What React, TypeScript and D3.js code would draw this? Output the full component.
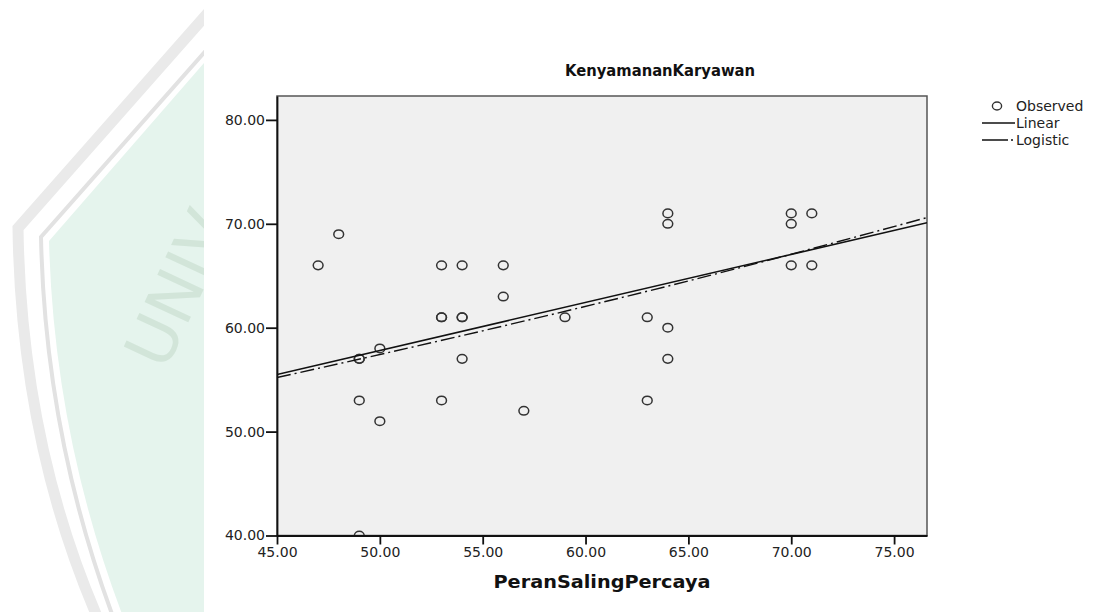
import React, { useEffect, useRef } from 'react'
import * as d3 from 'd3'

// waarnemingen: PeranSalingPercaya (x) tegen KenyamananKaryawan (y)
const peranSalingPercaya = [47, 48, 49, 49, 49, 49, 50, 50, 53, 53, 53, 53, 54, 54, 54, 54, 56, 56, 57, 59, 63, 63, 64, 64, 64, 64, 70, 70, 70, 71, 71]
const kenyamananKaryawan = [66, 69, 57, 57, 53, 40, 58, 51, 66, 61, 61, 53, 66, 61, 61, 57, 66, 63, 52, 61, 61, 53, 71, 70, 60, 57, 71, 70, 66, 71, 66]

const linearX = [45, 76.6]
const linearY = [55.5, 70.1]
const logisticX = [45, 55, 65, 76.6]
const logisticY = [55.2, 59.7, 64.5, 70.6]

const xTicks = [45, 50, 55, 60, 65, 70, 75]
const yTicks = [40, 50, 60, 70, 80]
const legendLabels = ['Observed', 'Linear', 'Logistic']

const FONT = '"DejaVu Sans", Arial, sans-serif'

function App() {
	const ref = useRef<SVGSVGElement>(null)

	useEffect(() => {
		const svg = d3.select(ref.current)
		svg.selectAll('*').remove()

		const left = 277
		const right = 927
		const top = 96
		const bottom = 535.5

		const x = d3.scaleLinear().domain([45, 76.6]).range([left, right])
		const y = d3.scaleLinear().domain([40, 82.3]).range([bottom, top])

		const defs = svg.append('defs')
		defs.append('clipPath').attr('id', 'wm-clip')
			.append('rect').attr('x', 0).attr('y', 0).attr('width', 204).attr('height', 612)
		defs.append('clipPath').attr('id', 'plot-clip')
			.append('rect').attr('x', left).attr('y', top).attr('width', right - left).attr('height', bottom - top)

		// watermerk aan de linkerkant
		const wm = svg.append('g').attr('clip-path', 'url(#wm-clip)')
		wm.append('path')
			.attr('d', 'M 210 56 L 49 241 Q 54 434 122 614 L 210 614 Z')
			.attr('fill', '#e5f4ed')
		wm.append('path')
			.attr('d', 'M 210 46 L 41 237 Q 45 432 112 614')
			.attr('fill', 'none').attr('stroke', '#e2e2e2').attr('stroke-width', 4)
		wm.append('path')
			.attr('d', 'M 214 6 L 18 228 Q 21 438 96 614')
			.attr('fill', 'none').attr('stroke', '#eaeaea').attr('stroke-width', 11)
		wm.append('text')
			.attr('transform', 'translate(165,372) rotate(-65)')
			.attr('font-family', FONT)
			.attr('font-size', 66)
			.attr('fill', '#d2e5d9')
			.text('UNIV')

		// plotvlak
		svg.append('rect')
			.attr('x', left).attr('y', top)
			.attr('width', right - left).attr('height', bottom - top)
			.attr('fill', '#f0f0f0')
			.attr('stroke', '#555')
			.attr('stroke-width', 1.5)

		const plot = svg.append('g').attr('clip-path', 'url(#plot-clip)')

		plot.selectAll('ellipse')
			.data(d3.range(peranSalingPercaya.length))
			.join('ellipse')
			.attr('cx', i => x(peranSalingPercaya[i]))
			.attr('cy', i => y(kenyamananKaryawan[i]))
			.attr('rx', 4.9)
			.attr('ry', 4.3)
			.attr('fill', 'none')
			.attr('stroke', '#333')
			.attr('stroke-width', 1.5)

		const line = d3.line<number>()
		plot.append('path')
			.attr('d', line.x(i => x(linearX[i])).y(i => y(linearY[i]))(d3.range(linearX.length)))
			.attr('fill', 'none')
			.attr('stroke', '#111')
			.attr('stroke-width', 1.6)

		const curve = d3.line<number>().curve(d3.curveMonotoneX)
			.x(i => x(logisticX[i]))
			.y(i => y(logisticY[i]))
		plot.append('path')
			.attr('d', curve(d3.range(logisticX.length)))
			.attr('fill', 'none')
			.attr('stroke', '#111')
			.attr('stroke-width', 1.4)
			.attr('stroke-dasharray', '14,4,2,4')

		// assen
		const xAxis = d3.axisBottom(x).tickValues(xTicks).tickFormat(d3.format('.2f')).tickSize(9).tickSizeOuter(0).tickPadding(3)
		const yAxis = d3.axisLeft(y).tickValues(yTicks).tickFormat(d3.format('.2f')).tickSize(11).tickSizeOuter(0).tickPadding(1)

		const gx = svg.append('g').attr('transform', `translate(0,${bottom})`).call(xAxis)
		const gy = svg.append('g').attr('transform', `translate(${left},0)`).call(yAxis)

		;[gx, gy].forEach(g => {
			g.attr('font-family', FONT).attr('font-size', 14)
			g.select('.domain').attr('stroke', '#111').attr('stroke-width', 1.8)
			g.selectAll('.tick line').attr('stroke', '#111').attr('stroke-width', 1.8)
			g.selectAll('.tick text').attr('fill', '#222')
		})

		// titels
		svg.append('text')
			.attr('x', 660).attr('y', 76)
			.attr('text-anchor', 'middle')
			.attr('font-family', FONT)
			.attr('font-weight', 'bold')
			.attr('font-size', 16)
			.attr('textLength', 190)
			.attr('lengthAdjust', 'spacingAndGlyphs')
			.attr('fill', '#111')
			.text('KenyamananKaryawan')

		svg.append('text')
			.attr('x', 602).attr('y', 588)
			.attr('text-anchor', 'middle')
			.attr('font-family', FONT)
			.attr('font-weight', 'bold')
			.attr('font-size', 17)
			.attr('textLength', 217)
			.attr('lengthAdjust', 'spacingAndGlyphs')
			.attr('fill', '#111')
			.text('PeranSalingPercaya')

		// legenda
		const legend = svg.append('g').attr('font-family', FONT).attr('font-size', 14).attr('fill', '#222')
		legendLabels.forEach((label, i) => {
			const ly = 106 + i * 17
			if (i === 0) {
				legend.append('ellipse').attr('cx', 997).attr('cy', ly).attr('rx', 4.6).attr('ry', 4)
					.attr('fill', 'none').attr('stroke', '#333').attr('stroke-width', 1.4)
			} else {
				legend.append('line').attr('x1', 982).attr('x2', 1015).attr('y1', ly).attr('y2', ly)
					.attr('stroke', '#111').attr('stroke-width', 1.4)
					.attr('stroke-dasharray', i === 2 ? '26,3,2,3' : null)
			}
			legend.append('text').attr('x', 1016).attr('y', ly).attr('dy', '0.36em').text(label)
		})
	}, [])

	return (
		<svg
			ref={ref}
			width={1098}
			height={612}
			style={{ position: 'absolute', left: 0, top: 0, background: '#fff' }}
		/>
	)
}

export default App
